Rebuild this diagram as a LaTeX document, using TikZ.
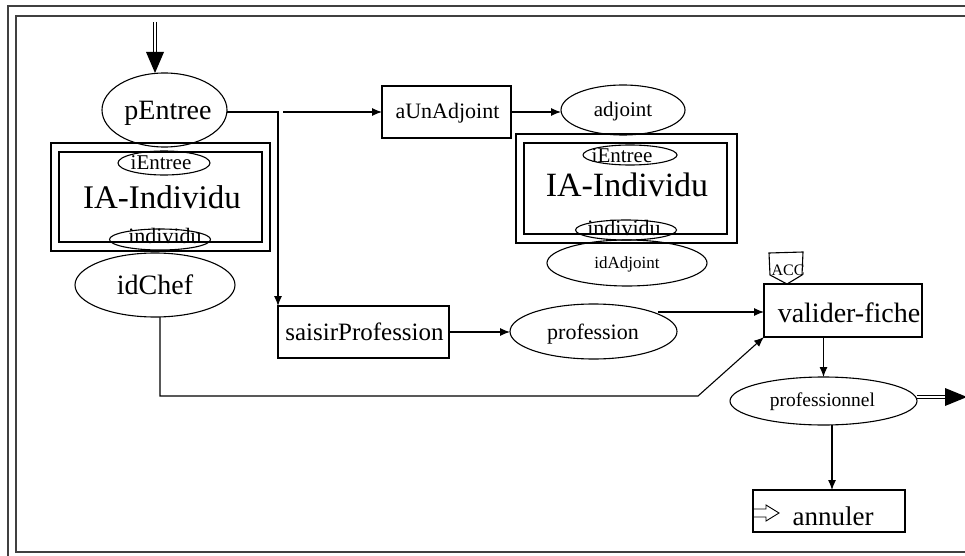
\documentclass[tikz,border=0pt]{standalone}
\usepackage{fontspec}
\setmainfont{Liberation Serif}
\usetikzlibrary{arrows.meta,shapes.geometric}
\newcommand\myfs[1]{\fontsize{#1}{#1}\selectfont}
\begin{document}
\begin{tikzpicture}[x=1pt,y=-1pt,
  ln/.style={line width=1.1pt},
  arr/.style={ln,-{Latex[length=10pt,width=8pt]}},
  ell/.style={draw,ellipse,ln,inner sep=0pt,outer sep=0pt},
  box/.style={draw,rectangle,ln,inner sep=0pt,outer sep=0pt},
  frm/.style={line width=1.3pt,black!75},
  txt/.style={inner sep=0pt,anchor=base},
  thick2/.style={double,double distance=2.4pt,line width=1.2pt}]
\clip (0,0) rectangle (965,556);
% frame
\draw[frm] (965,6) -- (8,6) -- (8,556);
\draw[frm] (965,16) -- (16,16) -- (16,552) -- (965,552);

% left part
\node[ell,minimum width=125pt,minimum height=74pt] (pE) at (164.5,110) {};
\node[txt,font=\myfs{28}] (pEt) at (168,120) {pEntree};
\node[box,minimum width=219pt,minimum height=108pt] (ia1o) at (160.5,197) {};
\node[box,minimum width=203pt,minimum height=90pt] (ia1i) at (160.5,197) {};
\node[ell,minimum width=92pt,minimum height=24pt] (ie1) at (164,163) {};
\node[txt,font=\myfs{21}] (ie1t) at (161,170) {iEntree};
\node[txt,font=\myfs{33}] (ia1t) at (162,208) {IA-Individu};
\node[ell,minimum width=101pt,minimum height=21pt] (in1) at (160,239.5) {};
\node[txt,font=\myfs{22}] (in1t) at (165,243) {individu};
\node[ell,minimum width=160pt,minimum height=64pt] (idC) at (155,285) {};
\node[txt,font=\myfs{28}] (idCt) at (155,294) {idChef};

% top middle
\node[box,minimum width=129pt,minimum height=52pt] (aU) at (446.5,112) {};
\node[txt,font=\myfs{22}] (aUt) at (447.5,119) {aUnAdjoint};
\node[ell,minimum width=124pt,minimum height=50pt] (adj) at (623,110) {};
\node[txt,font=\myfs{21}] (adjt) at (623,117) {adjoint};
\node[box,minimum width=221pt,minimum height=109pt] (ia2o) at (626.5,188.5) {};
\node[box,minimum width=203pt,minimum height=91pt] (ia2i) at (625.5,188.5) {};
\node[ell,minimum width=94pt,minimum height=20pt] (ie2) at (630,155) {};
\node[txt,font=\myfs{21}] (ie2t) at (622,163) {iEntree};
\node[txt,font=\myfs{34}] (ia2t) at (627,196) {IA-Individu};
\node[ell,minimum width=101pt,minimum height=20pt] (in2) at (626,230) {};
\node[txt,font=\myfs{22}] (in2t) at (624,235) {individu};
\node[ell,minimum width=160pt,minimum height=46pt] (idA) at (627,263) {};
\node[txt,font=\myfs{17}] (idAt) at (627,268) {idAdjoint};

% middle row
\node[box,minimum width=171pt,minimum height=52pt] (sP) at (363.5,332) {};
\node[txt,font=\myfs{25}] (sPt) at (364.5,340) {saisirProfession};
\node[ell,minimum width=167pt,minimum height=55pt] (prof) at (593.5,331.5) {};
\node[txt,font=\myfs{22}] (proft) at (593,339) {profession};
\node[box,minimum width=158pt,minimum height=53pt] (vf) at (843,310.5) {};
\node[txt,font=\myfs{28}] (vft) at (849,322) {valider-fiche};
\draw[ln] (769,253) -- (803,252) -- (802,275) -- (787,284) -- (770,275) -- cycle;
\node[txt,font=\myfs{16}] (acc) at (788,275) {ACC};
\node[ell,minimum width=187pt,minimum height=48pt] (prl) at (823.5,401) {};
\node[txt,font=\myfs{19.5}] (prlt) at (822.5,406.5) {professionnel};
\node[box,minimum width=152pt,minimum height=42pt] (an) at (829,511) {};
\node[txt,font=\myfs{27}] (ant) at (833,525) {annuler};
\draw[line width=0.9pt] (753,509) -- (766,509) -- (766,505) -- (779,513) -- (766,521) -- (766,517) -- (753,517);

% connectors
\coordinate (c1) at (278,112);
\coordinate (c2) at (283,112);
\draw[arr] (pE.east |- c1) -- (c1) -- (sP.north west);
\draw[arr] (c2) -- (aU.west);
\draw[arr] (aU.east) -- (aU.east -| adj.west);
\draw[arr] (sP.east) -- (sP.east -| prof.west);
\coordinate (c3) at (658,312);
\draw[arr] (c3) -- (c3 -| vf.west);
\coordinate (c4) at (160,396);
\coordinate (c5) at (698,396);
\draw[arr] (idC.south -| c4) -- (c4) -- (c5) -- (vf.south west);
\draw[arr] (prl.north |- vf.south) -- (prl.north);
\coordinate (c6) at (832,425);
\draw[arr] (c6) -- (c6 |- an.north);

% thick arrows
\coordinate (t0) at (155,22);
\coordinate (t1) at (155,73);
\draw[thick2] (t0) -- (155,54);
\fill (t1) -- (146,52) -- (164,52) -- cycle;
\coordinate (r0) at (917,397);
\coordinate (r1) at (967,397);
\draw[thick2] (r0) -- (948,397);
\fill (r1) -- (945,388) -- (945,406) -- cycle;
\end{tikzpicture}
\end{document}
